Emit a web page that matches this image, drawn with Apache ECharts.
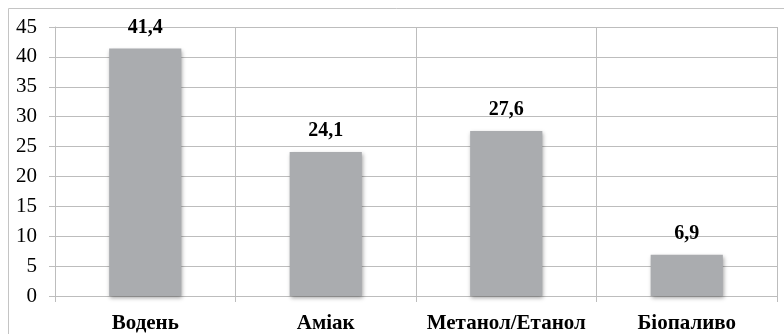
<!DOCTYPE html>
<html><head><meta charset="utf-8">
<script src="https://cdn.jsdelivr.net/npm/echarts@6/dist/echarts.min.js"></script>
<style>html,body{margin:0;padding:0;background:#fff}#c{width:784px;height:334px}</style>
</head><body><div id="c"></div>
<script>
const categories = ['Водень', 'Аміак', 'Метанол/Етанол', 'Біопаливо'];
const values = [41.4, 24.1, 27.6, 6.9];
const yTicks = {min: 0, max: 45, interval: 5};

const chart = echarts.init(document.getElementById('c'), null, {renderer: 'canvas'});
const gridColor = '#bdbdbd';
chart.setOption({
  animation: false,
  graphic: [{type: 'rect', shape: {x: 8.5, y: 8.5, width: 800, height: 400}, style: {fill: 'none', stroke: '#c4c4c4', lineWidth: 1}}],
  grid: {left: 55, right: 7, top: 27, bottom: 37},
  xAxis: {
    type: 'category', data: categories, boundaryGap: true,
    axisLine: {show: true, lineStyle: {color: gridColor}},
    axisTick: {show: true, interval: 0, length: 6, alignWithLabel: false, lineStyle: {color: gridColor}},
    splitLine: {show: true, interval: 0, lineStyle: {color: gridColor}},
    axisLabel: {interval: 0, hideOverlap: false, margin: 17, fontFamily: 'Liberation Serif', fontWeight: 'bold', fontSize: 21, color: '#000'}
  },
  yAxis: {
    type: 'value', min: yTicks.min, max: yTicks.max, interval: yTicks.interval,
    axisLine: {show: true, lineStyle: {color: gridColor}},
    axisTick: {show: true, length: 6, lineStyle: {color: gridColor}},
    splitLine: {show: true, lineStyle: {color: gridColor}},
    axisLabel: {margin: 18, fontFamily: 'Liberation Serif', fontSize: 21, color: '#000'}
  },
  series: [{
    type: 'bar', data: values, barWidth: '40%',
    itemStyle: {color: '#aaacaf', shadowBlur: 4, shadowColor: 'rgba(0,0,0,0.35)', shadowOffsetX: 1, shadowOffsetY: 2},
    label: {show: true, position: 'top', distance: 11, fontFamily: 'Liberation Serif', fontWeight: 'bold', fontSize: 20, color: '#000',
      formatter: p => String(p.value).replace('.', ',')}
  }]
});
</script></body></html>
